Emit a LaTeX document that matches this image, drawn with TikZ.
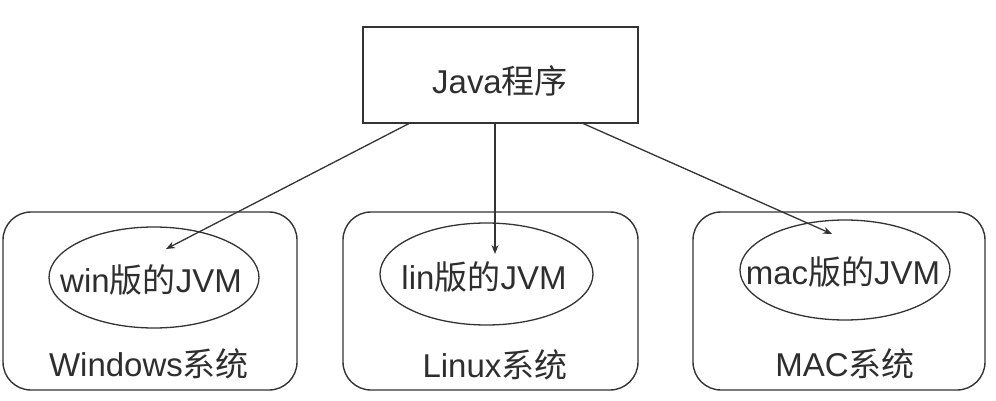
\documentclass[tikz,border=0pt]{standalone}
\usepackage{fontspec}
\setmainfont{Liberation Sans}
\newfontfamily\cjk{Noto Sans CJK SC}
\usetikzlibrary{arrows.meta,shapes.geometric}
\definecolor{ink}{HTML}{333333}
\definecolor{txt}{HTML}{2E2E2E}
\tikzset{
  lbl/.style={text=txt,font=\fontsize{33}{39}\selectfont,inner sep=0pt},
  topbox/.style={draw=ink,line width=1.7pt,minimum width=275pt,minimum height=96pt,inner sep=0pt},
  osbox/.style={draw=ink,line width=1.4pt,rounded corners=28pt,inner sep=0pt},
  jvm/.style={draw=ink,line width=1.3pt,ellipse,inner sep=0pt},
  conn/.style={draw=ink,line width=1.3pt,-{Stealth[length=9pt,width=7pt]}}
}
\begin{document}
\begin{tikzpicture}[x=1pt,y=-1pt]
\useasboundingbox (0,0) rectangle (996,401);
% top box
\node[topbox] (java) at (500.5,75) {};
\node[lbl] (javat) at (500,81) {Java{\cjk 程序}};
% OS boxes
\node[osbox,minimum width=294pt,minimum height=178pt] (win) at (150,301) {};
\node[osbox,minimum width=295pt,minimum height=178pt] (lin) at (490.5,301) {};
\node[osbox,minimum width=292pt,minimum height=178pt] (mac) at (839,301) {};
% ellipses
\node[jvm,minimum width=210pt,minimum height=101pt] (winjvm) at (154,277.5) {};
\node[jvm,minimum width=213pt,minimum height=102pt] (linjvm) at (486.5,274) {};
\node[jvm,minimum width=210pt,minimum height=100pt] (macjvm) at (845,270) {};
% labels
\node[lbl] (wint) at (151,280) {win{\cjk 版的}JVM};
\node[lbl] (lint) at (484,277) {lin{\cjk 版的}JVM};
\node[lbl] (mact) at (843,272) {mac{\cjk 版的}JVM};
\node[lbl] (wins) at (149,364) {Windows{\cjk 系统}};
\node[lbl] (lins) at (495,365) {Linux{\cjk 系统}};
\node[lbl] (macs) at (845,364) {MAC{\cjk 系统}};
% arrow anchors
\coordinate (s1) at (410,123);
\coordinate (s2) at (495,123);
\coordinate (s3) at (582,123);
\coordinate (e1) at (166,249);
\coordinate (e2) at (495,254);
\coordinate (e3) at (832,234);
\draw[conn] (s1) -- (e1);
\draw[conn] (s2) -- (e2);
\draw[conn] (s3) -- (e3);
\end{tikzpicture}
\end{document}
